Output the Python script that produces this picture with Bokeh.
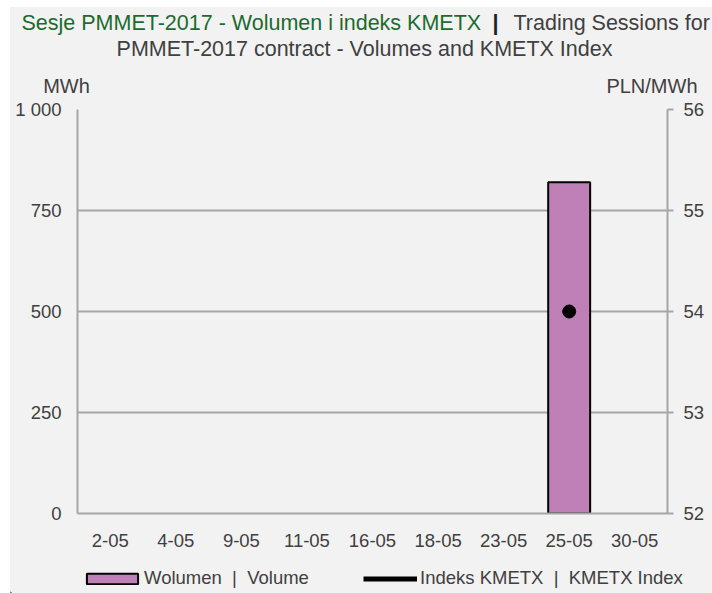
from bokeh.plotting import figure
from bokeh.layouts import column
from bokeh.models import (Label, Legend, LegendItem, LinearAxis, Range1d, FixedTicker,
                          CustomJSTickFormatter, ColumnDataSource)
from bokeh.embed import file_html
from bokeh.resources import INLINE

# ---- data ----
dates = ["2-05", "4-05", "9-05", "11-05", "16-05", "18-05", "23-05", "25-05", "30-05"]
volume_mwh = [None, None, None, None, None, None, None, 820, None]
kmetx_index = [None, None, None, None, None, None, None, 54.0, None]
left_ticks = [0, 250, 500, 750, 1000]
right_ticks = [52, 53, 54, 55, 56]

FONT = "Liberation Sans"
TXT = "#404040"
GRAY = "#a6a6a6"
GREEN = "#1b6b2f"
BG = "#f2f2f2"
BAR = "#bf80b7"
W = 702
ML, MT = 10, 7   # outer white margin (left, top)
TICK_FS = "18.5px"

src = ColumnDataSource(data=dict(
    d=dates,
    v=[float("nan") if v is None else v for v in volume_mwh],
    k=[float("nan") if v is None else v for v in kmetx_index],
))

def no_align(fig):
    try:
        fig.frame_align = False
    except Exception:
        pass

# ---------- header ----------
HH = 90
hdr = figure(width=W, height=HH, x_range=Range1d(0, W), y_range=Range1d(0, HH),
             x_axis_type=None, y_axis_type=None, min_border=0,
             output_backend="svg", toolbar_location=None)
hdr.background_fill_color = BG
hdr.border_fill_color = BG
hdr.outline_line_color = None
no_align(hdr)

def lab(px, py, text, color=TXT, size="21.5px", align="left", style="normal"):
    hdr.add_layout(Label(x=px - ML, y=HH - (py - MT), text=text,
                         text_font=FONT, text_font_size=size, text_color=color,
                         text_align=align, text_baseline="middle", text_font_style=style))

lab(21, 22, "Sesje PMMET-2017 - Wolumen i indeks KMETX", color=GREEN)
lab(495, 22, "|", color="#202020", align="center", style="bold")
lab(513, 22, "Trading Sessions for")
lab(364, 48, "PMMET-2017 contract - Volumes and KMETX Index", align="center")
lab(66, 85, "MWh", size="20px", align="center")
lab(697, 85, "PLN/MWh", size="20px", align="right")

# ---------- main chart ----------
p = figure(x_range=dates, y_range=Range1d(0, 1000), width=W, height=458,
           output_backend="svg", toolbar_location=None,
           min_border_left=67, min_border_right=45, min_border_top=12, min_border_bottom=42)
p.background_fill_color = BG
p.border_fill_color = BG
p.outline_line_color = None
no_align(p)
p.extra_y_ranges = {"idx": Range1d(52, 56)}

ya = p.yaxis[0]
ya.ticker = FixedTicker(ticks=left_ticks)
ya.formatter = CustomJSTickFormatter(code=r"return tick.toFixed(0).replace(/\B(?=(\d{3})+(?!\d))/g, ' ');")
ya.major_tick_out = 0
ya.major_tick_in = 0
ya.minor_tick_line_color = None
ya.axis_line_color = GRAY
ya.axis_line_width = 2
ya.major_label_standoff = 16
ya.major_label_text_font = FONT
ya.major_label_text_font_size = TICK_FS
ya.major_label_text_color = TXT

ra = LinearAxis(y_range_name="idx", ticker=FixedTicker(ticks=right_ticks))
ra.major_tick_out = 6
ra.major_tick_in = 0
ra.major_tick_line_color = GRAY
ra.major_tick_line_width = 2
ra.minor_tick_line_color = None
ra.axis_line_color = GRAY
ra.axis_line_width = 2
ra.major_label_standoff = 10
ra.major_label_text_font = FONT
ra.major_label_text_font_size = TICK_FS
ra.major_label_text_color = TXT
p.add_layout(ra, "right")

xa = p.xaxis[0]
xa.major_tick_line_color = None
xa.minor_tick_line_color = None
xa.axis_line_color = GRAY
xa.axis_line_width = 2
xa.major_label_standoff = 14
xa.major_label_text_font = FONT
xa.major_label_text_font_size = TICK_FS
xa.major_label_text_color = TXT

p.xgrid.grid_line_color = None
p.ygrid.ticker = FixedTicker(ticks=left_ticks)
p.ygrid.grid_line_color = GRAY
p.ygrid.grid_line_width = 2

p.vbar(x="d", top="v", width=0.64, source=src, fill_color=BAR,
       line_color="black", line_width=2)
p.scatter(x="d", y="k", source=src, y_range_name="idx", marker="circle", size=13,
          fill_color="black", line_color="black")

# ---------- legend footer ----------
FH = 38
ftr = figure(width=W, height=FH, x_range=Range1d(0, W), y_range=Range1d(0, FH),
             x_axis_type=None, y_axis_type=None, min_border=0,
             output_backend="svg", toolbar_location=None)
ftr.background_fill_color = BG
ftr.border_fill_color = BG
ftr.outline_line_color = None
no_align(ftr)
# legend swatches only (drawn off-range, not visible as marks)
lg_bar = ftr.vbar(x=[-1000], top=[1], width=1, fill_color=BAR, line_color="black", line_width=2)
lg_line = ftr.line(x=[-1000, -999], y=[1, 1], line_color="black", line_width=5)

common = dict(padding=0, margin=0, background_fill_alpha=0, border_line_color=None,
              label_text_font=FONT, label_text_font_size=TICK_FS, label_text_color=TXT,
              label_height=20)
leg1 = Legend(items=[LegendItem(label="Wolumen\u00a0\u00a0|\u00a0\u00a0Volume", renderers=[lg_bar])],
              location=(86 - 6 - ML, 4), glyph_width=64, glyph_height=13, label_standoff=0, **common)
leg2 = Legend(items=[LegendItem(label="Indeks KMETX\u00a0\u00a0|\u00a0\u00a0KMETX Index", renderers=[lg_line])],
              location=(363 - ML, 4), glyph_width=54, glyph_height=13, label_standoff=3, **common)
ftr.add_layout(leg1, "center")
ftr.add_layout(leg2, "center")

lay = column(hdr, p, ftr, spacing=0)
lay.margin = (MT, 0, 0, ML)
lay.styles = {"background-color": BG}

open("out.html", "w").write(file_html(lay, INLINE))
